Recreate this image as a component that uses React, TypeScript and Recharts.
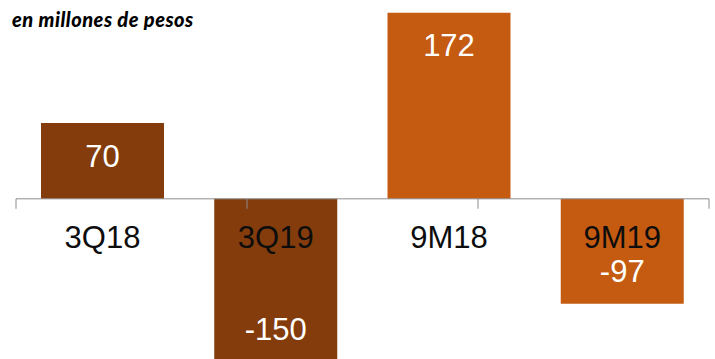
import React from "react";
import {
	BarChart,
	Bar,
	XAxis,
	YAxis,
	Cell,
	LabelList,
	ReferenceLine,
} from "recharts";

const categories = ["3Q18", "3Q19", "9M18", "9M19"];
const results = [70, -150, 172, -97];
const boundaries = [0, 1, 2, 3, 4];

const barColors = ["#843C0C", "#843C0C", "#C55A11", "#C55A11"];
const font = "'Liberation Sans', Arial, sans-serif";

const data = categories.map((name, i) => ({ name, value: results[i] }));

function edges(props: any) {
	const y = Number(props.y);
	const h = Number(props.height);
	const top = Math.min(y, y + h);
	const bottom = Math.max(y, y + h);
	const positive = results[props.index] >= 0;
	return {
		cx: Number(props.x) + Number(props.width) / 2,
		base: positive ? bottom : top,
		end: positive ? top : bottom,
		positive,
	};
}

const ValueLabel = (props: any) => {
	const { cx, end, positive } = edges(props);
	return (
		<text
			x={cx}
			y={positive ? end + 33 : end - 32}
			textAnchor="middle"
			dominantBaseline="central"
			fill="#ffffff"
			fontFamily={font}
			fontSize={31}
		>
			{results[props.index]}
		</text>
	);
};

const CategoryLabel = (props: any) => {
	const { cx, base } = edges(props);
	return (
		<text
			x={cx}
			y={base + 39}
			textAnchor="middle"
			dominantBaseline="central"
			fill="#0d0d0d"
			fontFamily={font}
			fontSize={31}
		>
			{categories[props.index]}
		</text>
	);
};

export default function App() {
	return (
		<div
			style={{
				position: "absolute",
				left: 0,
				top: 0,
				width: 715,
				height: 359,
				overflow: "hidden",
				background: "#fff",
			}}
		>
			<div
				style={{
					position: "absolute",
					left: 12,
					top: 7,
					fontFamily: "Lato, sans-serif",
					fontWeight: 900,
					fontStyle: "italic",
					fontSize: 20,
					letterSpacing: 0.5,
					lineHeight: "24px",
					color: "#000",
					zIndex: 2,
				}}
			>
				en millones de pesos
			</div>
			<BarChart
				width={715}
				height={376}
				data={data}
				margin={{ top: 4, right: 6, bottom: 4, left: 16 }}
				barCategoryGap={25}
			>
				<XAxis dataKey="name" hide />
				<XAxis
					xAxisId="grid"
					type="number"
					domain={[0, 4]}
					allowDataOverflow
					hide
				/>
				<YAxis domain={[-160, 180]} allowDataOverflow hide />
				<Bar dataKey="value" isAnimationActive={false}>
					{data.map((d, i) => (
						<Cell key={d.name} fill={barColors[i]} />
					))}
					<LabelList dataKey="value" content={ValueLabel} />
					<LabelList dataKey="name" content={CategoryLabel} />
				</Bar>
				<ReferenceLine y={0} stroke="#8c8c8c" strokeWidth={1} />
				{boundaries.map((b) => (
					<ReferenceLine
						key={b}
						xAxisId="grid"
						stroke="#8c8c8c"
						ifOverflow="visible"
						segment={[
							{ x: b, y: 0 },
							{ x: b, y: -9.2 },
						]}
					/>
				))}
			</BarChart>
		</div>
	);
}
